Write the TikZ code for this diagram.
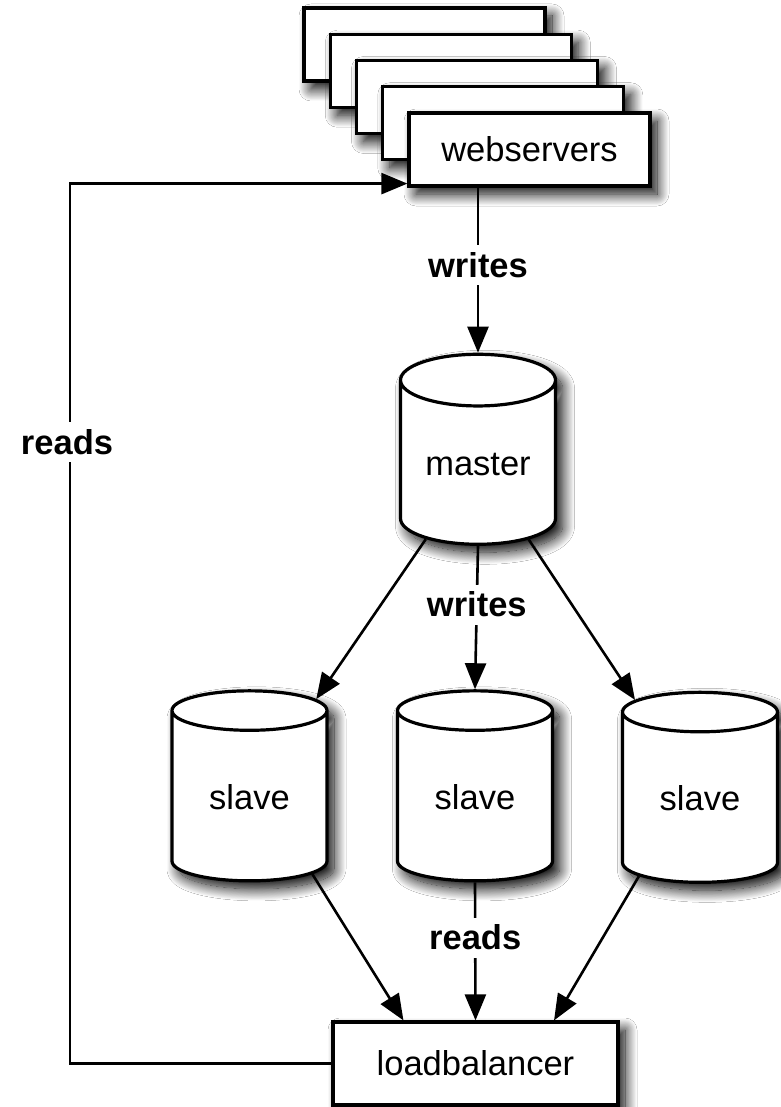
\documentclass[tikz,border=0pt]{standalone}
\usepackage{fontspec}
\setmainfont{Liberation Sans}
\usetikzlibrary{arrows.meta,shapes.geometric,calc,shadows.blur}

\tikzset{
  softshadow/.style={blur shadow={shadow xshift=7pt, shadow yshift=-8pt,
      shadow blur radius=12pt, shadow blur steps=18, shadow opacity=100}},
  srv/.style={draw, line width=3.2pt, fill=white, minimum width=241pt,
      minimum height=73pt, inner sep=0pt, softshadow},
  db/.style={cylinder, shape border rotate=90, aspect=0.49, draw,
      line width=3.2pt, fill=white, minimum width=155pt, minimum height=190pt,
      inner sep=0pt, text height=26pt, text depth=1pt, softshadow},
  link/.style={line width=2.6pt, -{Triangle[length=26pt,width=21pt]}},
  lbl/.style={fill=white, inner sep=3pt, minimum height=40pt,
      font=\fontsize{34.5}{41}\selectfont\bfseries},
}

\begin{document}
\begin{tikzpicture}[x=1pt, y=1pt, font=\fontsize{34.5}{41}\selectfont]
  \fill[white] (0,0) rectangle (780,-1107);
  \useasboundingbox (0,0) rectangle (780,-1107);

  % stack of web servers, back to front
  \node[srv] (ws4) at (424.5,-44.5) {};
  \node[srv] (ws3) at (450.75,-70.75) {};
  \node[srv] (ws2) at (477,-97) {};
  \node[srv] (ws1) at (503.25,-123.25) {};
  \node[srv] (ws)  at (529.5,-149.5) {webservers};

  % databases
  \node[db] (m)  at (478,-463) {master};
  \node[db] (s1) at (249.5,-796.5) {slave};
  \node[db] (s2) at (475,-796.5) {slave};
  \node[db] (s3) at (700,-798) {slave};

  % load balancer
  \node[draw, line width=3.2pt, fill=white, minimum width=285pt,
        minimum height=83pt, inner sep=0pt, softshadow] (lb) at (475.5,-1063.5) {loadbalancer};

  % writes: web servers to master, master to slaves
  \draw[link] (ws.south -| m.north) -- node[lbl, pos=0.47] {writes} (m.north);
  \draw[link] (m) -- (s1);
  \draw[link] (m.south) -- node[lbl, pos=0.41] {writes} (s2.north);
  \draw[link] (m) -- (s3);

  % reads: slaves to load balancer
  \draw[link] (s1.-51) -- ($(lb.north)!0.5!(lb.north west)$);
  \draw[link] (s2.south) -- node[lbl, pos=0.4] {reads} (lb.north);
  \draw[link] (s3.-128) -- ($(lb.north)!0.545!(lb.north east)$);

  % reads: load balancer back to the web servers
  \coordinate (rail) at (70,-442);
  \draw[link] (lb.west) -| (rail) |- ($(ws.south west)+(0,4)$);
  \node[lbl] (rd) at (67,-442) {reads};
\end{tikzpicture}
\end{document}
